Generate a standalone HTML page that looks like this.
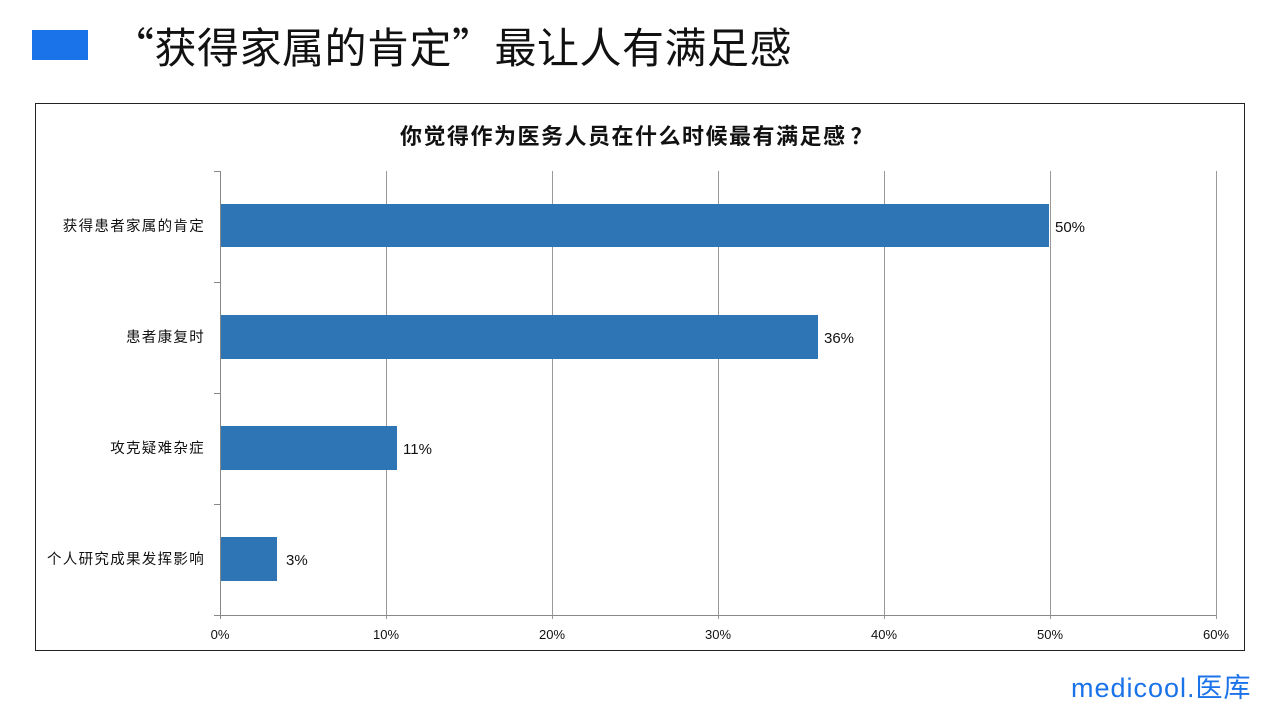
<!DOCTYPE html>
<html><head><meta charset="utf-8"><style>
body{margin:0;width:1280px;height:720px;background:#fff;overflow:hidden;font-family:"Liberation Sans","Noto Sans CJK SC",sans-serif}
</style></head><body>
<svg width="1280" height="720" xmlns="http://www.w3.org/2000/svg" font-family="Liberation Sans, Noto Sans CJK SC, sans-serif">
<rect x="32" y="30" width="56" height="30" fill="#1a73e8"/>
<text x="112" y="63" font-size="42" fill="#111" letter-spacing="0.5" font-family="Noto Sans CJK SC, sans-serif">“获得家属的肯定”最让人有满足感</text>
<rect x="35.5" y="103.5" width="1209" height="547" fill="#fff" stroke="#222" stroke-width="1"/>
<text x="400" y="144" font-size="22" font-weight="bold" fill="#111" letter-spacing="1.5" font-family="Noto Sans CJK SC, sans-serif">你觉得作为医务人员在什么时候最有满足感<tspan dx="4">？</tspan></text>
<g stroke="#999" stroke-width="1">
<line x1="386.5" y1="171" x2="386.5" y2="619"/>
<line x1="552.5" y1="171" x2="552.5" y2="619"/>
<line x1="718.5" y1="171" x2="718.5" y2="619"/>
<line x1="884.5" y1="171" x2="884.5" y2="619"/>
<line x1="1050.5" y1="171" x2="1050.5" y2="619"/>
<line x1="1216.5" y1="171" x2="1216.5" y2="619"/>
</g>
<g stroke="#888" stroke-width="1">
<line x1="220.5" y1="171" x2="220.5" y2="619"/>
<line x1="214" y1="615.5" x2="1216" y2="615.5"/>
<line x1="214" y1="171.5" x2="220" y2="171.5"/>
<line x1="214" y1="282.5" x2="220" y2="282.5"/>
<line x1="214" y1="393.5" x2="220" y2="393.5"/>
<line x1="214" y1="504.5" x2="220" y2="504.5"/>
</g>
<g fill="#2e75b6">
<rect x="221" y="204" width="828" height="43"/>
<rect x="221" y="315" width="597" height="44"/>
<rect x="221" y="426" width="176" height="44"/>
<rect x="221" y="537" width="56" height="44"/>
</g>
<g font-size="15" fill="#111">
<text x="1055" y="232">50%</text>
<text x="824" y="343">36%</text>
<text x="403" y="454">11%</text>
<text x="286" y="565">3%</text>
</g>
<g font-size="14.5" fill="#111" text-anchor="end" font-family="Noto Sans CJK SC, sans-serif">
<text x="205" y="231" letter-spacing="1.3">获得患者家属的肯定</text>
<text x="205" y="342" letter-spacing="1.3">患者康复时</text>
<text x="205" y="453" letter-spacing="1.3">攻克疑难杂症</text>
<text x="205" y="564" letter-spacing="1.3">个人研究成果发挥影响</text>
</g>
<g font-size="13" fill="#111" text-anchor="middle">
<text x="220" y="639">0%</text>
<text x="386" y="639">10%</text>
<text x="552" y="639">20%</text>
<text x="718" y="639">30%</text>
<text x="884" y="639">40%</text>
<text x="1050" y="639">50%</text>
<text x="1216" y="639">60%</text>
</g>
<text x="1071" y="697" font-size="27" fill="#1a73e8" letter-spacing="1">medicool.医库</text>
</svg>
</body></html>
